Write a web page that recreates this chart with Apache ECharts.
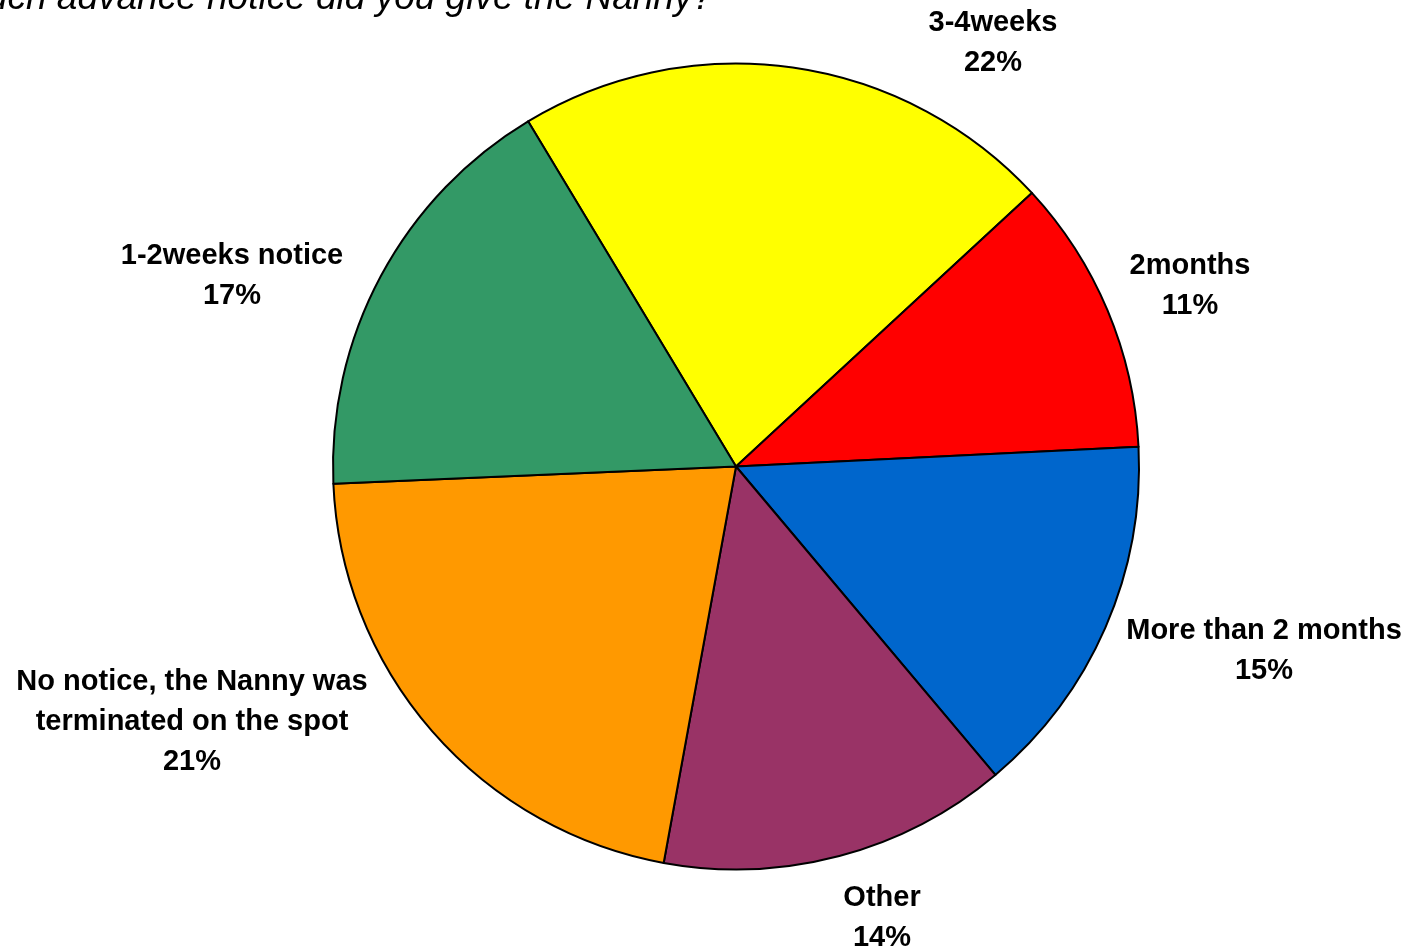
<!DOCTYPE html>
<html>
<head>
<meta charset="utf-8">
<script src="https://cdn.jsdelivr.net/npm/echarts@6/dist/echarts.min.js"></script>
<style>
html,body{margin:0;padding:0;background:#fff;}
#chart{width:1411px;height:951px;}
</style>
</head>
<body>
<div id="chart"></div>
<script>
const titleText = 'How much advance notice did you give the Nanny?';
const categories = ['3-4weeks', '2months', 'More than 2 months', 'Other', 'No notice, the Nanny was\nterminated on the spot', '1-2weeks notice'];
const values = [21.75, 11.1, 14.65, 14.0, 21.45, 17.05];
const colors = ['#FFFF00', '#FF0000', '#0066CC', '#993366', '#FF9900', '#339966'];
// label anchor positions (px), style only
const labelPos = [[993, 43], [1190, 286], [1264, 651], [882, 918], [192, 722], [232, 276]];

const chart = echarts.init(document.getElementById('chart'));
chart.setOption({
  backgroundColor: '#ffffff',
  animation: false,
  title: {
    text: titleText,
    right: 693,
    top: -25,
    textStyle: {
      fontFamily: 'Liberation Sans, Arial, sans-serif',
      fontSize: 37,
      fontStyle: 'italic',
      fontWeight: 'normal',
      color: '#000'
    }
  },
  series: [{
    type: 'pie',
    center: [736, 466.5],
    radius: 403,
    startAngle: 121.06,
    clockwise: true,
    avoidLabelOverlap: false,
    data: categories.map((c, i) => ({
      name: c, value: values[i],
      itemStyle: { color: colors[i] }
    })),
    itemStyle: { borderColor: '#000', borderWidth: 2 },
    label: {
      show: true,
      position: 'outside',
      formatter: p => p.name + '\n' + Math.round(p.percent) + '%',
      fontFamily: 'Liberation Sans, Arial, sans-serif',
      fontSize: 29,
      fontWeight: 'bold',
      color: '#000',
      lineHeight: 40
    },
    labelLine: { show: false },
    labelLayout: p => ({
      x: labelPos[p.dataIndex][0],
      y: labelPos[p.dataIndex][1],
      align: 'center',
      verticalAlign: 'middle'
    })
  }]
});
</script>
</body>
</html>
